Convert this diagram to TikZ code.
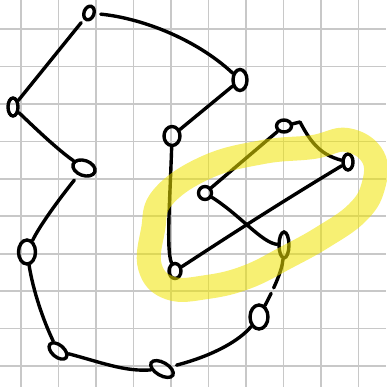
\documentclass[tikz,border=0pt]{standalone}
\usetikzlibrary{shapes.geometric,calc}
\definecolor{hilite}{RGB}{240,228,0}
\definecolor{gridgray}{RGB}{200,200,200}
\begin{document}
\begin{tikzpicture}[x=1pt, y=-1pt,
  ink/.style={line width=3.4pt, line cap=round, line join=round},
  curl/.style={ellipse, draw, line width=3.4pt, inner sep=0pt},
  gridline/.style={gridgray, line width=1.6pt},
  marker/.style={hilite, draw opacity=0.55, line width=24pt, line cap=round, line join=round}]
  \useasboundingbox (0,0) rectangle (386,387);
  % squared paper
  \foreach \i in {0,...,9} {
    \draw[gridline] ({21+37.5*\i},0) -- ({21+37.5*\i},387);
    \draw[gridline] (0,{29+37.45*\i}) -- (386,{29+37.45*\i});
  }
  % little hand-drawn loops
  \node[curl, minimum width=10pt, minimum height=14pt, rotate=-20] (top) at (89,13) {};
  \node[curl, minimum width=14pt, minimum height=21pt] (ne) at (240,80) {};
  \node[curl, minimum width=10pt, minimum height=18pt] (west) at (13,107) {};
  \node[curl, minimum width=23pt, minimum height=15pt, rotate=-20] (mid) at (84,168) {};
  \node[curl, minimum width=16pt, minimum height=19pt] (hub) at (172,136) {};
  \node[curl, minimum width=15pt, minimum height=12pt] (peak) at (284,126) {};
  \node[curl, minimum width=10pt, minimum height=16pt] (east) at (348,162) {};
  \node[curl, minimum width=13pt, minimum height=13pt] (inner) at (205,193) {};
  \node[curl, minimum width=12pt, minimum height=15pt] (low) at (175,271) {};
  \node[curl, minimum width=10pt, minimum height=26pt] (cross) at (284,245) {};
  \node[curl, minimum width=17pt, minimum height=24pt] (side) at (27,252) {};
  \node[curl, minimum width=18pt, minimum height=24pt] (se) at (259,317) {};
  \node[curl, minimum width=21pt, minimum height=12pt, rotate=-40] (sw) at (58,351) {};
  \node[curl, minimum width=25pt, minimum height=13pt, rotate=-30] (foot) at (162,369) {};
  \coordinate (bump) at (300,122);
  % outer chain
  \draw[ink, shorten <=4pt] (top) -- (west);
  \draw[ink, shorten <=5pt] (top) .. controls (140,18) and (195,38) .. (ne);
  \draw[ink] (ne) -- (hub);
  \draw[ink] (west) .. controls (35,128) and (58,150) .. (mid);
  \draw[ink, shorten <=6pt] (mid) .. controls (60,198) and (40,225) .. (side);
  \draw[ink] (side) .. controls (33,290) and (43,320) .. (sw);
  \draw[ink] (sw) .. controls (100,362) and (125,372) .. (foot);
  \draw[ink, shorten <=5pt] (foot) .. controls (215,355) and (240,340) .. (se);
  \draw[ink, dash pattern=on 30pt off 6pt on 40pt] (cross) .. controls (282,272) and (272,292) .. (se);
  % inner crossing
  \draw[ink] (hub) .. controls (170,200) and (166,250) .. (low);
  \draw[ink] (low) .. controls (200,255) and (260,215) .. (east);
  \draw[ink] (inner) -- (peak);
  \draw[ink] (inner) .. controls (240,215) and (262,243) .. (cross);
  \draw[ink] (peak) -- (bump) .. controls (312,145) and (322,155) .. (east);
  % highlighter stroke
  \draw[marker] plot[smooth cycle, tension=0.7] coordinates {(163,197) (207,167) (263,152) (313,147) (347,140) (373,157) (373,187) (357,213) (323,237) (287,257) (247,277) (207,287) (170,288) (150,267) (153,230)};
\end{tikzpicture}
\end{document}
